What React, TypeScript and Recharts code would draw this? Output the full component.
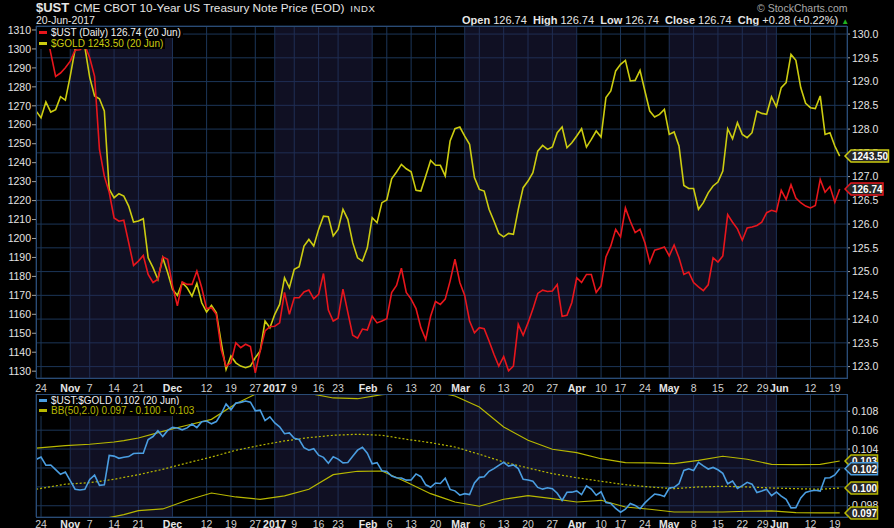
import React from "react";
import {
  ComposedChart,
  Line,
  XAxis,
  YAxis,
  CartesianGrid,
  ReferenceArea,
  ReferenceLine,
} from "recharts";

const FONT = "'Liberation Sans', Arial, sans-serif";

// daily closes, trading-day index -1 (21 Oct 2016) .. 164 (20 Jun 2017)
const ust = [
  130.4,
  130.35, 130.12, 129.6, 129.11, 129.18, 129.29, 129.43, 129.66, 129.67, 129.76,
  129.5, 129.11, 127.57, 127.01, 126.67, 126.13, 126.06, 126.08, 125.61, 125.13,
  125.22, 125.34, 124.94, 124.77, 124.84, 125.31, 125.26, 124.7, 124.28, 124.78,
  124.73, 124.73, 125.01, 124.66, 124.22, 124.24, 124.1, 123.36, 123.01, 123.08,
  123.5, 123.4, 123.47, 123.42, 122.87, 123.33, 123.75, 123.84, 123.85, 123.92,
  124.56, 124.1, 124.45, 124.45, 124.57, 124.61, 124.43, 124.52, 124.96, 124.19,
  123.96, 124.02, 124.63, 124.14, 123.66, 123.6, 123.79, 123.77, 124.06, 123.92,
  123.96, 124.01, 124.56, 124.71, 125.07, 124.56, 124.42, 124.22, 123.82, 123.57,
  124.06, 124.37, 124.31, 124.42, 124.8, 125.26, 124.77, 124.5, 123.96, 123.71,
  123.82, 123.8, 123.54, 123.26, 123.01, 123.21, 122.91, 123.01, 123.89, 123.66,
  123.92, 124.21, 124.54, 124.61, 124.58, 124.59, 124.73, 124.06, 124.08, 124.35,
  124.87, 124.77, 124.94, 124.94, 124.56, 124.7, 125.31, 125.54, 125.89, 125.73,
  126.34, 126.06, 125.82, 125.89, 125.61, 125.19, 125.45, 125.48, 125.52, 125.33,
  125.56, 125.29, 124.94, 124.99, 124.77, 124.68, 124.6, 124.72, 125.29, 125.2,
  125.33, 126.2, 126.04, 125.9, 125.66, 125.92, 125.94, 125.97, 126.04, 126.24,
  126.29, 126.26, 126.71, 126.52, 126.83, 126.55, 126.45, 126.38, 126.34, 126.39,
  126.94, 126.67, 126.79, 126.46, 126.74,
];

const gold = [
  1267.2,
  1263.7, 1272, 1266.7, 1268, 1274.8, 1273, 1285.7, 1299.8, 1301, 1301,
  1285, 1275.2, 1273.7, 1267.3, 1226, 1221.5, 1223.6, 1222.4, 1217.1, 1208.7,
  1209.2, 1210.4, 1189.8, 1184.6, 1178.4, 1189.8, 1182, 1173.1, 1170, 1176.7,
  1174, 1169.6, 1176.3, 1166.1, 1161.2, 1164.7, 1160.8, 1145, 1130.9, 1138,
  1134.4, 1132.7, 1131.8, 1132.7, 1137.1, 1140.6, 1156.4, 1152.9, 1160, 1165.2,
  1179.3, 1174, 1183.7, 1185.1, 1196, 1199.5, 1196, 1204.8, 1211.8, 1211.5,
  1201.3, 1204.8, 1215.4, 1210.1, 1197.8, 1189.8, 1188.1, 1195.1, 1211, 1208.3,
  1218.9, 1220.3, 1231.5, 1235.1, 1239.1, 1236.8, 1235.2, 1225.4, 1225, 1233,
  1241.2, 1238.6, 1238.6, 1233, 1251.4, 1257.9, 1258.8, 1254, 1249.7, 1232.1,
  1225.9, 1225, 1215.4, 1209.2, 1202.7, 1200.9, 1202.7, 1202.2, 1215.4, 1226.8,
  1230.3, 1234.7, 1246.1, 1249.1, 1247, 1248.3, 1255.8, 1258.8, 1247.9, 1250.5,
  1254.1, 1257.9, 1248.2, 1252.3, 1256.7, 1253.5, 1274.3, 1277.8, 1288.4, 1291.9,
  1294, 1283.1, 1283.4, 1288.7, 1277.8, 1267.2, 1264.1, 1265.5, 1268.1, 1254.9,
  1256.2, 1248.8, 1228, 1226.4, 1226.4, 1215.4, 1218.9, 1224.1, 1227.7, 1229.8,
  1235.6, 1257.9, 1252.6, 1261.1, 1254.9, 1253.2, 1255.8, 1267.2, 1266, 1265.5,
  1274.8, 1269.5, 1279.6, 1282.2, 1297.1, 1294, 1279.6, 1271.3, 1269, 1268.5,
  1275.2, 1254.9, 1255.8, 1248.8, 1243.5,
];

// Bollinger Bands (50,2)
const bbIdx = [-1, 5, 10, 15, 17, 20, 25, 30, 35, 40, 45, 50, 55, 60, 65, 70, 75, 80, 83, 85, 90, 95, 100, 105, 110, 115, 120, 125, 130, 135, 140, 145, 150, 155, 160, 164];
const bbUpper = [0.1041, 0.10436, 0.10451, 0.10475, 0.1049, 0.10517, 0.10588, 0.10652, 0.10715, 0.1088, 0.11005, 0.1106, 0.1099, 0.10941, 0.10933, 0.10976, 0.10995, 0.1101, 0.10985, 0.10962, 0.10846, 0.10634, 0.10493, 0.10398, 0.10362, 0.10298, 0.10256, 0.10253, 0.10246, 0.10281, 0.10324, 0.10292, 0.10239, 0.10235, 0.10239, 0.10274];
const bbMid = [0.09975, 0.10028, 0.10044, 0.1008, 0.101, 0.10129, 0.10186, 0.10253, 0.10316, 0.10387, 0.1044, 0.10486, 0.10521, 0.10546, 0.10557, 0.10546, 0.10504, 0.10468, 0.1044, 0.10422, 0.10345, 0.10263, 0.102, 0.1014, 0.10097, 0.10059, 0.10023, 0.09999, 0.09981, 0.09999, 0.10006, 0.09999, 0.09988, 0.09981, 0.09975, 0.09988];
const bbLower = [0.0954, 0.0962, 0.09637, 0.09685, 0.09706, 0.09748, 0.09766, 0.09858, 0.09935, 0.09893, 0.09868, 0.09904, 0.09975, 0.10129, 0.10165, 0.10168, 0.10052, 0.09928, 0.09875, 0.0984, 0.09795, 0.09869, 0.09907, 0.09875, 0.0984, 0.09858, 0.09787, 0.09763, 0.09734, 0.09734, 0.09734, 0.09742, 0.09745, 0.09727, 0.09724, 0.09724];

const tickIdx = [0, 6, 10, 15, 20, 27, 34, 39, 44, 48, 52, 57, 61, 68, 71, 76, 81, 87, 90, 95, 100, 105, 110, 115, 119, 124, 129, 134, 139, 144, 149, 151, 158, 163];
const tickLabels = ["24", "Nov", "7", "14", "21", "Dec", "12", "19", "27", "2017", "9", "16", "23", "Feb", "6", "13", "20", "Mar", "6", "13", "20", "27", "Apr", "10", "17", "24", "May", "8", "15", "22", "29", "Jun", "12", "19"];
const monthLabels = ["Nov", "Dec", "2017", "Feb", "Mar", "Apr", "May", "Jun"];
const shadedMonths = [[6, 27], [48, 68], [87, 110], [129, 151]];

const goldTicks = [1130, 1140, 1150, 1160, 1170, 1180, 1190, 1200, 1210, 1220, 1230, 1240, 1250, 1260, 1270, 1280, 1290, 1300, 1310];
const ustTicks = [123, 123.5, 124, 124.5, 125, 125.5, 126, 126.5, 127, 127.5, 128, 128.5, 129, 129.5, 130];
const ratioTicks = [0.098, 0.1, 0.102, 0.104, 0.106, 0.108];

const rows: any[] = ust.map((u, k) => ({ i: k - 1, ust: u, gold: gold[k], ratio: u / gold[k] }));
bbIdx.forEach((d, k) => {
  const row = rows[d + 1];
  row.upper = bbUpper[k];
  row.mid = bbMid[k];
  row.lower = bbLower[k];
});

const last = rows[rows.length - 1];
const RED = "#e8161c";
const YELLOW = "#cccc10";
const BAND = "#b8b800";
const BLUE = "#4a9de0";
const GRID = "#1c3658";
const BORDER = "#2a4c76";
const SHADE = "#24244e";

const X_DOMAIN = [-1.03, 165.5];
const GOLD_DOMAIN = [1126.4, 1312.1];
const UST_DOMAIN = [122.76, 130.17];
const RATIO_DOMAIN = [0.09681, 0.10983];

function DateTick(props: any) {
  const { x, y, payload, dy } = props;
  const k = tickIdx.indexOf(payload.value);
  const label = tickLabels[k] ?? "";
  const month = monthLabels.includes(label);
  // push apart labels that sit only a couple of sessions from each other
  let shift = 0;
  if (k > 0 && tickIdx[k] - tickIdx[k - 1] <= 3) shift += 3;
  if (k < tickIdx.length - 1 && tickIdx[k + 1] - tickIdx[k] <= 3) shift -= 4;
  return (
    <text
      x={x + shift}
      y={y + dy}
      textAnchor="middle"
      fill={month ? "#e6e6e6" : "#d0d0d0"}
      fontSize={10.5}
      fontWeight={month ? 700 : 400}
      fontFamily={FONT}
    >
      {label}
    </text>
  );
}

function makeTag(text: string, border: string) {
  return (props: any) => {
    const vb = props.viewBox || {};
    const x = (vb.x ?? 0) + (vb.width ?? 0);
    const y = vb.y ?? 0;
    const w = text.length * 5.5 + 5;
    return (
      <g>
        <path
          d={`M${x - 2},${y} L${x + 4},${y - 6} L${x - 2 + w},${y - 6} L${x - 2 + w},${y + 6} L${x + 4},${y + 6} Z`}
          fill="#262626"
          stroke={border}
          strokeWidth={1.5}
        />
        <text x={x + 5} y={y + 4} fill="#ffffff" fontSize={10} fontWeight={700} fontFamily={FONT}>
          {text}
        </text>
      </g>
    );
  };
}

function LegendLine({ top, color, text, textColor }: { top: number; color: string; text: string; textColor: string }) {
  return (
    <div
      style={{
        position: "absolute",
        left: 37,
        top,
        height: 11,
        lineHeight: "11px",
        background: "#000",
        paddingRight: 2,
        fontSize: 10,
        color: textColor,
        whiteSpace: "nowrap",
      }}
    >
      <span style={{ display: "inline-block", width: 8, height: 3, background: color, margin: "0 4px 2px 2px", verticalAlign: "middle" }} />
      {text}
    </div>
  );
}

const axisTick = { fill: "#e4e4e4", fontSize: 10.5, fontFamily: FONT };
const layer: React.CSSProperties = { position: "absolute", left: 0 };

export default function App() {
  return (
    <div
      style={{
        position: "absolute",
        left: 0,
        top: 0,
        width: 894,
        height: 528,
        background: "#000",
        overflow: "hidden",
        fontFamily: FONT,
        color: "#e6e6e6",
      }}
    >
      {/* header */}
      <div style={{ position: "absolute", left: 36, top: 0, whiteSpace: "nowrap", fontSize: 11.8 }}>
        <b style={{ fontSize: 13, marginRight: 5 }}>$UST</b>
        CME CBOT 10-Year US Treasury Note Price (EOD)
        <span style={{ fontSize: 9.5, marginLeft: 6, letterSpacing: 0.6 }}>INDX</span>
      </div>
      <div style={{ position: "absolute", left: 36, top: 14, fontSize: 10.5 }}>20-Jun-2017</div>
      <div style={{ position: "absolute", left: 757, top: 2, fontSize: 10.5, color: "#a8a8a8" }}>© StockCharts.com</div>
      <div style={{ position: "absolute", left: 462, top: 14, fontSize: 11, whiteSpace: "nowrap" }}>
        <b>Open</b> 126.74&nbsp;&nbsp;<b>High</b> 126.74&nbsp;&nbsp;<b>Low</b> 126.74&nbsp;&nbsp;<b>Close</b> 126.74&nbsp;&nbsp;
        <b>Chg</b> +0.28 (+0.22%)
        <span style={{ color: "#1fb31f", fontSize: 8, marginLeft: 3 }}>▲</span>
      </div>

      {/* price panel */}
      <div style={{ ...layer, top: 0 }}>
        <ComposedChart width={894} height={394} data={rows} margin={{ top: 26, right: 0, bottom: 0, left: 0 }}>
          {shadedMonths.map(([a, b]) => (
            <ReferenceArea key={a} yAxisId="right" x1={a} x2={b} fill={SHADE} fillOpacity={0.45} stroke="none" />
          ))}
          <CartesianGrid yAxisId="right" stroke={GRID} strokeWidth={1} />
          <XAxis
            dataKey="i"
            type="number"
            domain={X_DOMAIN}
            allowDataOverflow
            ticks={tickIdx}
            interval={0}
            height={16}
            axisLine={false}
            tickLine={false}
            tickSize={0}
            tick={<DateTick dy={12} />}
          />
          <YAxis
            yAxisId="left"
            orientation="left"
            width={36}
            domain={GOLD_DOMAIN}
            allowDataOverflow
            ticks={goldTicks}
            interval={0}
            axisLine={false}
            tickLine={{ stroke: "#a0a0a0" }}
            tickSize={4}
            tickMargin={1}
            tick={axisTick}
          />
          <YAxis
            yAxisId="right"
            orientation="right"
            width={47}
            domain={UST_DOMAIN}
            allowDataOverflow
            ticks={ustTicks}
            interval={0}
            axisLine={false}
            tickLine={{ stroke: "#a0a0a0" }}
            tickSize={3}
            tickMargin={2}
            tick={axisTick}
            tickFormatter={(v: number) => v.toFixed(1)}
          />
          <Line yAxisId="left" dataKey="gold" stroke={YELLOW} strokeWidth={1.6} dot={false} isAnimationActive={false} />
          <Line yAxisId="right" dataKey="ust" stroke={RED} strokeWidth={1.6} dot={false} isAnimationActive={false} />
        </ComposedChart>
      </div>
      <div style={{ position: "absolute", left: 36, top: 26, width: 810, height: 351, border: `1px solid ${BORDER}`, pointerEvents: "none" }} />
      {/* last-value tags, drawn over the axis labels */}
      <div style={{ ...layer, top: 0 }}>
        <ComposedChart width={894} height={394} data={rows} margin={{ top: 26, right: 0, bottom: 0, left: 0 }}>
          <XAxis dataKey="i" type="number" domain={X_DOMAIN} allowDataOverflow height={16} axisLine={false} tickLine={false} tick={false} />
          <YAxis yAxisId="left" orientation="left" width={36} domain={GOLD_DOMAIN} allowDataOverflow axisLine={false} tickLine={false} tick={false} />
          <YAxis yAxisId="right" orientation="right" width={47} domain={UST_DOMAIN} allowDataOverflow axisLine={false} tickLine={false} tick={false} />
          <ReferenceLine yAxisId="left" y={last.gold} stroke="none" label={makeTag(last.gold.toFixed(2), YELLOW)} />
          <ReferenceLine yAxisId="right" y={last.ust} stroke="none" label={makeTag(last.ust.toFixed(2), RED)} />
        </ComposedChart>
      </div>
      <LegendLine top={27} color={RED} textColor="#f0f0f0" text={`$UST (Daily) ${last.ust.toFixed(2)} (20 Jun)`} />
      <LegendLine top={38} color={YELLOW} textColor={YELLOW} text={`$GOLD ${last.gold.toFixed(2)} (20 Jun)`} />

      {/* ratio panel */}
      <div style={{ ...layer, top: 394 }}>
        <ComposedChart width={894} height={134} data={rows} margin={{ top: 0, right: 0, bottom: 0, left: 36 }}>
          {shadedMonths.map(([a, b]) => (
            <ReferenceArea key={a} x1={a} x2={b} fill={SHADE} fillOpacity={0.45} stroke="none" />
          ))}
          <CartesianGrid stroke={GRID} strokeWidth={1} />
          <XAxis
            dataKey="i"
            type="number"
            domain={X_DOMAIN}
            allowDataOverflow
            ticks={tickIdx}
            interval={0}
            height={11}
            axisLine={false}
            tickLine={false}
            tickSize={0}
            tick={<DateTick dy={8.5} />}
          />
          <YAxis
            orientation="right"
            width={47}
            domain={RATIO_DOMAIN}
            allowDataOverflow
            ticks={ratioTicks}
            interval={0}
            axisLine={false}
            tickLine={{ stroke: "#a0a0a0" }}
            tickSize={3}
            tickMargin={2}
            tick={axisTick}
            tickFormatter={(v: number) => v.toFixed(3)}
          />
          <Line dataKey="upper" stroke={BAND} strokeWidth={1.2} dot={false} connectNulls isAnimationActive={false} />
          <Line dataKey="mid" stroke={BAND} strokeWidth={1.2} strokeDasharray="2 2" dot={false} connectNulls isAnimationActive={false} />
          <Line dataKey="lower" stroke={BAND} strokeWidth={1.2} dot={false} connectNulls isAnimationActive={false} />
          <Line dataKey="ratio" stroke={BLUE} strokeWidth={1.6} dot={false} isAnimationActive={false} />
        </ComposedChart>
      </div>
      <div style={{ position: "absolute", left: 36, top: 394, width: 810, height: 122, border: `1px solid ${BORDER}`, pointerEvents: "none" }} />
      <div style={{ ...layer, top: 394 }}>
        <ComposedChart width={894} height={134} data={rows} margin={{ top: 0, right: 0, bottom: 0, left: 36 }}>
          <XAxis dataKey="i" type="number" domain={X_DOMAIN} allowDataOverflow height={11} axisLine={false} tickLine={false} tick={false} />
          <YAxis orientation="right" width={47} domain={RATIO_DOMAIN} allowDataOverflow axisLine={false} tickLine={false} tick={false} />
          <ReferenceLine y={last.upper} stroke="none" label={makeTag(last.upper.toFixed(3), BAND)} />
          <ReferenceLine y={last.mid} stroke="none" label={makeTag(last.mid.toFixed(3), BAND)} />
          <ReferenceLine y={last.lower} stroke="none" label={makeTag(last.lower.toFixed(3), BAND)} />
          <ReferenceLine y={last.ratio} stroke="none" label={makeTag(last.ratio.toFixed(3), BLUE)} />
        </ComposedChart>
      </div>
      <LegendLine top={395} color={BLUE} textColor="#f0f0f0" text={`$UST:$GOLD ${last.ratio.toFixed(3)} (20 Jun)`} />
      <LegendLine
        top={405}
        color={BAND}
        textColor={BAND}
        text={`BB(50,2.0) ${last.lower.toFixed(3)} - ${last.mid.toFixed(3)} - ${last.upper.toFixed(3)}`}
      />
    </div>
  );
}
